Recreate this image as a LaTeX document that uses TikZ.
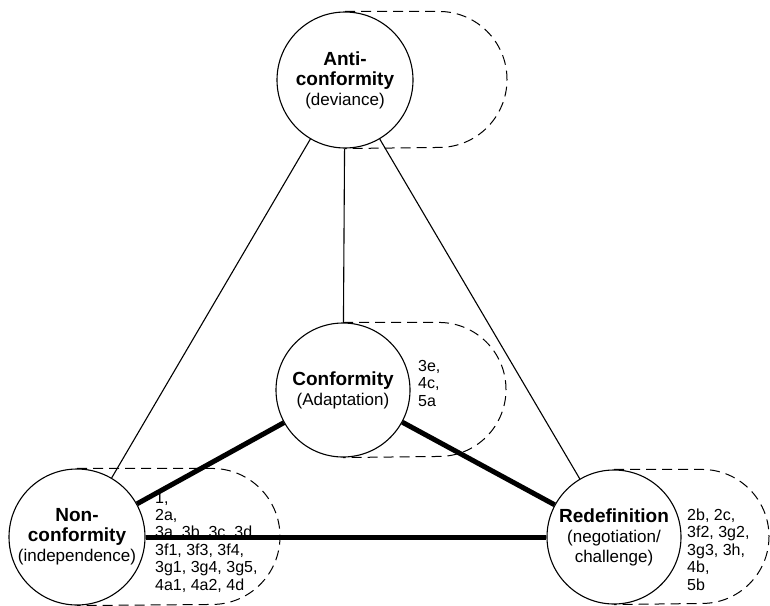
\documentclass[tikz,border=0pt]{standalone}
\usepackage{fontspec}
\setsansfont{Liberation Sans}
\usepackage{tikz}
\usetikzlibrary{positioning, calc}

\begin{document}
\begin{tikzpicture}[x=1pt, y=1pt,
        pole/.style={circle, draw, line width=1.1pt, fill=white, minimum size=136pt, inner sep=0pt,
            align=center, font=\sffamily\fontsize{17}{20}\selectfont},
        refs/.style={anchor=base west, align=left, inner sep=0pt,
            font=\sffamily\fontsize{16}{17.4}\selectfont},
        zone/.style={line width=1pt, dash pattern=on 10pt off 6pt},
        weak/.style={line width=1.1pt},
        strong/.style={line width=5pt}
    ]
    \useasboundingbox (0,0) rectangle (770,-605);
    % the four poles
    \node[pole] (anti) at (345,-80) {{\bfseries\fontsize{19}{20}\selectfont Anti-}\\{\bfseries\fontsize{19}{20}\selectfont conformity}\\(deviance)};
    \node[pole, minimum size=134pt] (con) at (343,-390) {{\bfseries\fontsize{19}{20}\selectfont Conformity}\\(Adaptation)};
    \node[pole] (non) at (77,-537) {{\bfseries\fontsize{19}{20}\selectfont Non-}\\{\bfseries\fontsize{19}{20}\selectfont conformity}\\(independence)};
    \node[pole, minimum size=134pt] (red) at (614,-537) {{\bfseries\fontsize{19}{20}\selectfont Redefinition}\\(negotiation/\\challenge)};
    % dashed zones
    \draw[zone] (anti.north) -- ++(94,0) arc[start angle=90, end angle=-90, radius=68] -- (anti.south);
    \draw[zone] (con.north) -- ++(96,0) arc[start angle=90, end angle=-90, radius=67] -- (con.south);
    \draw[zone] (non.north) -- ++(135,0) arc[start angle=90, end angle=-90, radius=68] -- (non.south);
    \draw[zone] (red.north) -- ++(88,0) arc[start angle=90, end angle=-90, radius=67] -- (red.south);
    % study references (anchored on the last line)
    \node[refs] (conrefs) at (418,-406) {3e,\\4c,\\5a};
    \node[refs] (nonrefs) at (155,-590) {1,\\2a,\\3a, 3b, 3c, 3d\\3f1, 3f3, 3f4,\\3g1, 3g4, 3g5,\\4a1, 4a2, 4d};
    \node[refs] (redrefs) at (687,-590) {2b, 2c,\\3f2, 3g2,\\3g3, 3h,\\4b,\\5b};
    % links
    \draw[weak] (anti) -- (con); \draw[weak] (anti) -- (non); \draw[weak] (anti) -- (red);
    \draw[strong] (non) -- (con); \draw[strong] (con) -- (red); \draw[strong] (non) -- (red);
\end{tikzpicture}
\end{document}
